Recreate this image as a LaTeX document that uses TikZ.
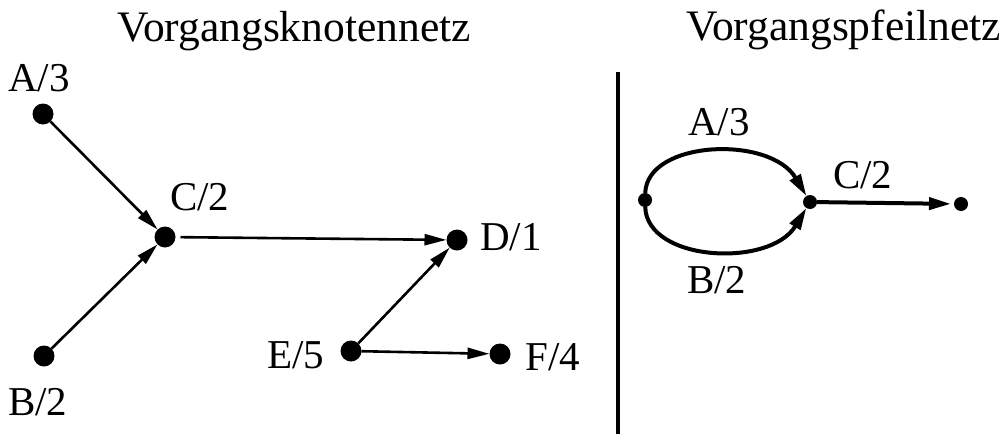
\documentclass[tikz,border=0pt]{standalone}
\usepackage{fontspec}
\setmainfont{Liberation Serif}
\usetikzlibrary{arrows.meta}
\begin{document}
\begin{tikzpicture}[x=1pt,y=-1pt,
  dotbig/.style={circle,fill=black,inner sep=0pt,minimum size=21pt,outer sep=0pt},
  dotsmall/.style={circle,fill=black,inner sep=0pt,minimum size=14pt,outer sep=0pt},
  lbl/.style={anchor=base west,inner sep=0pt,font=\fontsize{41}{48}\selectfont},
  ttl/.style={anchor=base west,inner sep=0pt,font=\fontsize{43.5}{50}\selectfont},
  arrL/.style={line width=2.6pt,-{Triangle[length=22pt,width=11pt]}},
  arrR/.style={line width=4pt,-{Triangle[length=22pt,width=12pt]}}]
\useasboundingbox (0,0) rectangle (1004,434);
% titles
\node[ttl] (t1) at (117,41) {Vorgangsknotennetz};
\node[ttl] (t2) at (686,40) {Vorgangspfeilnetz};
% left graph
\node[dotbig] (A) at (43,114) {};
\node[dotbig] (B) at (44,356) {};
\node[dotbig] (C) at (165,237) {};
\node[dotbig] (D) at (457,240) {};
\node[dotbig] (E) at (351,351) {};
\node[dotbig] (F) at (500,354) {};
\node[lbl] (lA) at (8,91) {A/3};
\node[lbl] (lB) at (8,415) {B/2};
\node[lbl] (lC) at (170,210) {C/2};
\node[lbl] (lD) at (480,250) {D/1};
\node[lbl] (lE) at (267,368) {E/5};
\node[lbl] (lF) at (525,370) {F/4};
\draw[arrL] (A) -- (C);
\draw[arrL] (B) -- (C);
\draw[arrL,shorten <=5pt] (C) -- (D);
\draw[arrL] (E) -- (D);
\draw[arrL] (E) -- (F);
% separator
\coordinate (s1) at (618,72);
\coordinate (s2) at (618,434);
\draw[line width=4pt] (s1) -- (s2);
% right graph
\node[dotsmall] (L) at (645,200) {};
\node[dotsmall] (R) at (810,202) {};
\node[dotsmall] (Z) at (961,204) {};
\draw[arrR] (L) .. controls (647,140) and (770,135) .. (R);
\draw[arrR] (L) .. controls (647,262) and (770,268) .. (R);
\draw[arrR,shorten >=3pt] (R) -- (Z);
\node[lbl] (rA) at (688,135) {A/3};
\node[lbl] (rC) at (833,188) {C/2};
\node[lbl] (rB) at (687,293) {B/2};
\end{tikzpicture}
\end{document}
